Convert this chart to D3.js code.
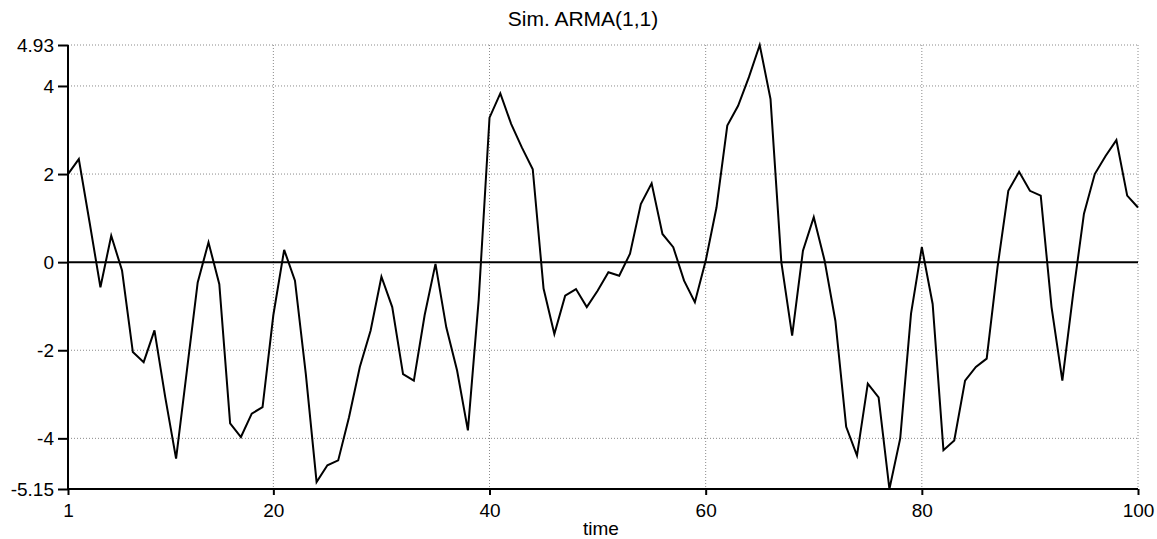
<!DOCTYPE html>
<html>
<head>
<meta charset="utf-8">
<script src="https://cdn.jsdelivr.net/npm/d3@7"></script>
<style>
  body { margin: 0; background: #fff; }
  svg text { font-family: "Liberation Sans", Arial, sans-serif; fill: #000; }
</style>
</head>
<body>
<script>
// simulated ARMA(1,1) values, t = 1..100
var simValues = [
   2.00,  2.34,  0.90, -0.57,  0.60, -0.19, -2.04, -2.27, -1.55, -3.07,
  -4.46, -2.46, -0.46,  0.45, -0.50, -3.66, -3.97, -3.44, -3.29, -1.20,
   0.28, -0.42, -2.53, -4.99, -4.61, -4.50, -3.52, -2.38, -1.55, -0.33,
  -1.02, -2.54, -2.69, -1.20, -0.04, -1.48, -2.46, -3.82, -0.85,  3.28,
   3.83,  3.14,  2.60,  2.11, -0.60, -1.63, -0.76, -0.61, -1.02, -0.65,
  -0.23, -0.31,  0.19,  1.32,  1.79,  0.64,  0.34, -0.42, -0.91,  0.03,
   1.24,  3.10,  3.55,  4.20,  4.93,  3.70,  0.00, -1.67,  0.26,  1.02,
   0.04, -1.33, -3.74, -4.39, -2.76, -3.07, -5.15, -4.00, -1.17,  0.34,
  -0.95, -4.27, -4.05, -2.69, -2.38, -2.19, -0.12,  1.62,  2.05,  1.62,
   1.51, -1.02, -2.69, -0.72,  1.10,  2.00,  2.41,  2.77,  1.51,  1.24
];
var xTicks = [1, 20, 40, 60, 80, 100];
var yTicks = [4.93, 4, 2, 0, -2, -4, -5.15];
var xGrid = [20, 40, 60, 80, 100];
var yGrid = [4.93, 4, 2, -2, -4];
var chartTitle = 'Sim. ARMA(1,1)';
var xTitle = 'time';

var W = 1157, H = 539;
var svg = d3.select('body').append('svg').attr('width', W).attr('height', H);

var x = d3.scaleLinear().domain([1, 100]).range([68, 1138]);
var y = d3.scaleLinear().domain([-5.15, 4.93]).range([489, 45]);

// dotted grid
svg.append('g').selectAll('line').data(yGrid).enter().append('line')
    .attr('x1', x(1)).attr('x2', x(100))
    .attr('y1', function(d){ return y(d); }).attr('y2', function(d){ return y(d); })
    .attr('stroke', '#8a8a8a').attr('stroke-width', 1).attr('stroke-dasharray', '1,2');
svg.append('g').selectAll('line').data(xGrid).enter().append('line')
    .attr('x1', function(d){ return x(d); }).attr('x2', function(d){ return x(d); })
    .attr('y1', y(4.93)).attr('y2', y(-5.15))
    .attr('stroke', '#8a8a8a').attr('stroke-width', 1).attr('stroke-dasharray', '1,2');

// zero line
svg.append('line')
    .attr('x1', x(1)).attr('x2', x(100)).attr('y1', y(0)).attr('y2', y(0))
    .attr('stroke', '#000').attr('stroke-width', 2);

// axes
var yAxis = d3.axisLeft(y).tickValues(yTicks).tickSize(10).tickPadding(4)
    .tickFormat(function(d){ return String(d); });
var gy = svg.append('g').attr('transform', 'translate(' + x(1) + ',0)').call(yAxis);

var xAxis = d3.axisBottom(x).tickValues(xTicks).tickSize(6).tickPadding(9)
    .tickFormat(function(d){ return String(d); });
var gx = svg.append('g').attr('transform', 'translate(0,' + y(-5.15) + ')').call(xAxis);

[gx, gy].forEach(function(g){
    g.select('.domain').remove();
    g.selectAll('line').attr('stroke', '#000').attr('stroke-width', 2);
    g.selectAll('text').attr('font-size', 19).attr('fill', '#000')
        .style('font-family', '"Liberation Sans", Arial, sans-serif');
});

// solid left and bottom axis lines
svg.append('line').attr('x1', x(1)).attr('x2', x(1)).attr('y1', y(4.93)).attr('y2', y(-5.15))
    .attr('stroke', '#000').attr('stroke-width', 2);
svg.append('line').attr('x1', x(1)).attr('x2', x(100)).attr('y1', y(-5.15)).attr('y2', y(-5.15))
    .attr('stroke', '#000').attr('stroke-width', 2);

// the series
var line = d3.line()
    .x(function(d, i){ return x(i + 1); })
    .y(function(d){ return y(d); });
svg.append('path').datum(simValues)
    .attr('d', line)
    .attr('fill', 'none').attr('stroke', '#000').attr('stroke-width', 2)
    .attr('stroke-linejoin', 'miter');

// titles
svg.append('text').text(chartTitle)
    .attr('x', 583).attr('y', 26).attr('text-anchor', 'middle').attr('font-size', 21);
svg.append('text').text(xTitle)
    .attr('x', 601).attr('y', 535).attr('text-anchor', 'middle').attr('font-size', 19);
</script>
</body>
</html>
